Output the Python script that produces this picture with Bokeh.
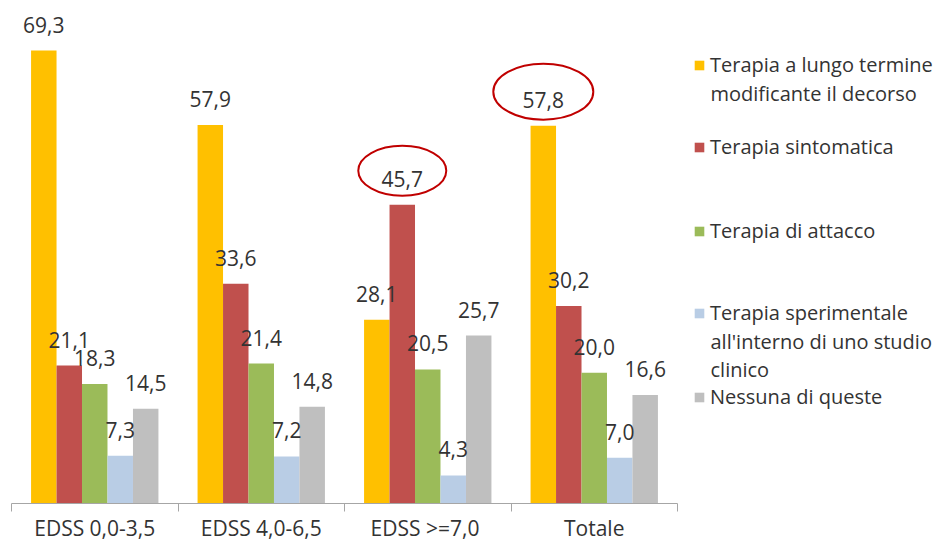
from bokeh.plotting import figure
from bokeh.models import Range1d, LinearAxis, FixedTicker, Legend, LegendItem, ColumnDataSource, Label
from bokeh.core.properties import value
from bokeh.embed import file_html
from bokeh.resources import INLINE

# ---- data ----
groups = ["EDSS 0,0-3,5", "EDSS 4,0-6,5", "EDSS  >=7,0", "Totale"]
series = [
    "Terapia a lungo termine\nmodificante il decorso",
    "Terapia sintomatica",
    "Terapia di attacco",
    "Terapia sperimentale\nall'interno di uno studio\nclinico",
    "Nessuna di queste",
]
lungo_termine = [69.3, 57.9, 28.1, 57.8]
sintomatica = [21.1, 33.6, 45.7, 30.2]
attacco = [18.3, 21.4, 20.5, 20.0]
sperimentale = [7.3, 7.2, 4.3, 7.0]
nessuna = [14.5, 14.8, 25.7, 16.6]
values = [lungo_termine, sintomatica, attacco, sperimentale, nessuna]
colors = ["#FFC000", "#C0504D", "#9BBB59", "#B9CDE5", "#BFBFBF"]
# (group index, series index) of circled labels
highlighted = [(2, 1), (3, 0)]

# ---- layout ----
W, H = 935, 544
FL = 11
F = 503            # expected frame bottom (px from top)
GROUP_PX = 166.5
PPU = (F - 50) / 69.3
Y_END = F / PPU
x_end = (W - FL) / GROUP_PX
BW = 0.153
FONT = "Open Sans"
TXT = "#333333"

p = figure(width=W, height=H, x_range=Range1d(0, x_end), y_range=Range1d(0, Y_END),
           output_backend="svg", toolbar_location=None,
           x_axis_location=None, y_axis_location=None,
           min_border_left=FL, min_border_right=0, min_border_top=0, min_border_bottom=0,
           outline_line_color=None, background_fill_color="white", border_fill_color="white")
p.grid.visible = False

centers = [g + 0.5 for g in range(len(groups))]
ax = LinearAxis(ticker=FixedTicker(ticks=centers, minor_ticks=list(range(len(groups) + 1))),
                bounds=(0, len(groups)),
                major_label_overrides={c: g for c, g in zip(centers, groups)})
ax.major_tick_line_color = None
ax.major_tick_out = 0
ax.major_tick_in = 0
ax.minor_tick_line_color = "#A6A6A6"
ax.minor_tick_out = 8
ax.minor_tick_in = 0
ax.axis_line_color = "#A6A6A6"
ax.major_label_text_font = FONT
ax.major_label_text_font_size = "21px"
ax.major_label_text_line_height = 1.0
ax.major_label_text_color = TXT
ax.major_label_standoff = 2
ax.axis_label_standoff = 0
p.add_layout(ax, "below")

renderers = []
lx, ly, lt = [], [], []
for i, vals in enumerate(values):
    xs = [c + (i - 2) * BW for c in centers]
    r = p.vbar(x=xs, top=vals, width=BW, fill_color=colors[i], line_color=None)
    renderers.append(r)
    lx += xs
    ly += vals
    lt += [f"{v:.1f}".replace(".", ",") for v in vals]

src = ColumnDataSource(dict(x=lx, y=ly, t=lt))
p.text(x="x", y="y", text="t", source=src, y_offset=-26, text_align="center",
       text_baseline="middle", text_font=value(FONT), text_font_size="21px", text_color=TXT)

ex = [centers[g] + (s - 2) * BW for g, s in highlighted]
ey = [values[s][g] + 34 / PPU for g, s in highlighted]
p.ellipse(x=ex, y=ey, width=[88, 100], height=[50, 56], width_units="screen", height_units="screen",
          fill_color=None, line_color="#C00000", line_width=2)

# legend entries: centre of first line (px from top); continuation lines as labels
first_line = [65, 147, 231, 313, 397]
LINE = 28
LEG_X = 693
for i, name in enumerate(series):
    lines = name.split("\n")
    leg = Legend(items=[LegendItem(label=lines[0], renderers=[renderers[i]])],
                 location=(LEG_X - FL, F - first_line[i] - 13.5),
                 glyph_width=12, glyph_height=12, label_standoff=5, padding=0, margin=0,
                 spacing=0, label_height=LINE, border_line_color=None, background_fill_alpha=0,
                 label_text_font=FONT, label_text_font_size="20px", label_text_color=TXT)
    p.add_layout(leg)
    for k, extra in enumerate(lines[1:], start=1):
        p.add_layout(Label(x=LEG_X + 17 - FL, y=F - first_line[i] - k * LINE, x_units="screen", y_units="screen",
                           text=extra, text_font=FONT, text_font_size="20px", text_color=TXT,
                           text_baseline="middle", text_align="left"))

open("out.html", "w").write(file_html(p, INLINE))
